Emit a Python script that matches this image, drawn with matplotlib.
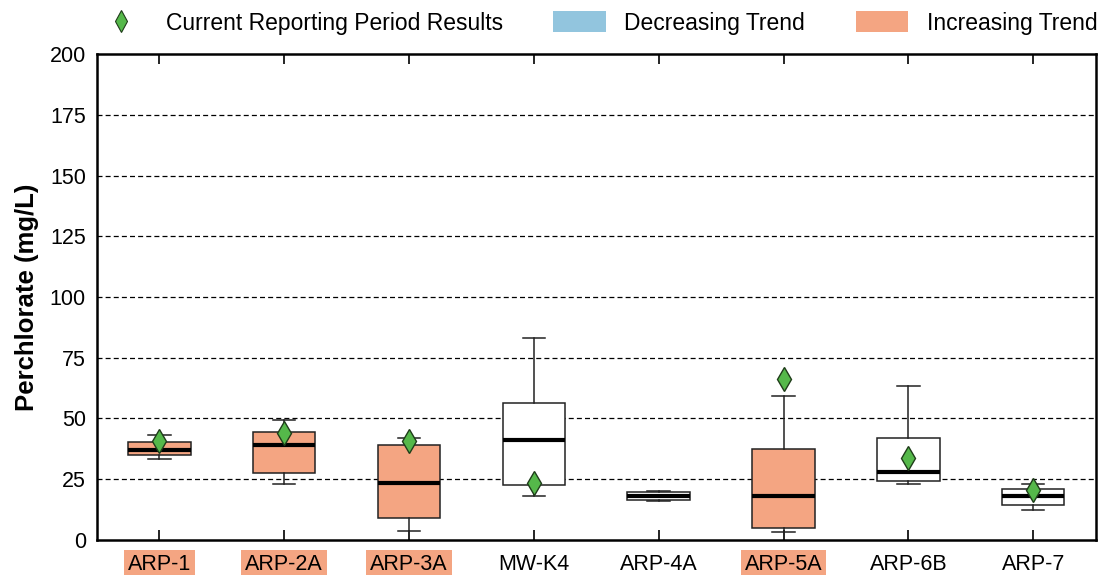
import matplotlib.pyplot as plt
from matplotlib.lines import Line2D
from matplotlib.patches import Patch

plt.rcParams['font.family'] = ['Liberation Sans', 'DejaVu Sans']

# well names and box statistics (mg/L)
wells = ['ARP-1', 'ARP-2A', 'ARP-3A', 'MW-K4', 'ARP-4A', 'ARP-5A', 'ARP-6B', 'ARP-7']
whislo = [33.3, 23.2, 3.7, 18.2, 16.2, 3.2, 23.2, 12.2]
q1 = [35.0, 27.6, 8.9, 22.8, 16.6, 4.8, 24.3, 14.4]
med = [37.0, 39.2, 23.6, 41.0, 18.0, 18.0, 28.1, 18.1]
q3 = [40.3, 44.4, 39.2, 56.4, 19.9, 37.3, 41.8, 21.1]
whishi = [43.2, 49.4, 42.1, 83.3, 20.3, 59.3, 63.2, 23.2]
# current reporting period results (None = no sample)
current = [40.7, 44.0, 40.7, 23.3, None, 66.3, 33.7, 20.4]
# trend per well: 'inc', 'dec' or None
trend = ['inc', 'inc', 'inc', None, None, 'inc', None, None]

dec_color = '#92C5DE'
inc_color = '#F4A582'
diamond_color = '#55B84A'
fontsize = 15.5

stats = []
for i in range(len(wells)):
    stats.append({'label': wells[i], 'whislo': whislo[i], 'q1': q1[i], 'med': med[i],
                  'q3': q3[i], 'whishi': whishi[i], 'fliers': []})

fig = plt.figure(figsize=(11.1, 5.75), dpi=100)
ax = fig.add_axes([0.0874, 0.061, 0.8996, 0.845])

positions = list(range(1, len(wells) + 1))
bp = ax.bxp(stats, positions=positions, widths=0.5, capwidths=0.18, patch_artist=True,
            boxprops=dict(edgecolor='#222222', linewidth=1.1),
            whiskerprops=dict(color='#222222', linewidth=1.1),
            capprops=dict(color='#222222', linewidth=1.1),
            medianprops=dict(color='black', linewidth=3.0))
for box, t in zip(bp['boxes'], trend):
    if t == 'inc':
        box.set_facecolor(inc_color)
    elif t == 'dec':
        box.set_facecolor(dec_color)
    else:
        box.set_facecolor('white')

# current results as diamonds
cx = [p for p, c in zip(positions, current) if c is not None]
cy = [c for c in current if c is not None]
ax.plot(cx, cy, linestyle='none', marker='d', markersize=12.5, markerfacecolor=diamond_color,
        markeredgecolor='#1f3d1a', markeredgewidth=1.0, zorder=5)

ax.set_xlim(0.5, len(wells) + 0.5)
ax.set_ylim(0, 200)
ax.set_yticks(range(0, 201, 25))
for y in range(25, 200, 25):
    ax.axhline(y, color='black', linestyle='--', linewidth=0.9, dashes=(4, 2.5), zorder=0)

ax.set_ylabel('Perchlorate (mg/L)', fontsize=18.5, fontweight='bold', labelpad=8)
ax.tick_params(axis='x', direction='in', length=7, width=1.2, top=True, labelsize=fontsize, pad=10)
ax.tick_params(axis='y', length=0, labelsize=fontsize, pad=8)
for spine in ax.spines.values():
    spine.set_linewidth(1.8)

ax.set_xticks(positions)
ax.set_xticklabels(wells)
for lbl, t in zip(ax.get_xticklabels(), trend):
    if t == 'inc':
        lbl.set_bbox(dict(facecolor=inc_color, edgecolor='none', pad=3))
    elif t == 'dec':
        lbl.set_bbox(dict(facecolor=dec_color, edgecolor='none', pad=3))

handles = [
    Line2D([], [], linestyle='none', marker='d', markersize=11, markerfacecolor=diamond_color,
           markeredgecolor='#1f3d1a', markeredgewidth=0.8),
    Patch(facecolor=dec_color, edgecolor='none'),
    Patch(facecolor=inc_color, edgecolor='none'),
]
fig.legend(handles, ['Current Reporting Period Results', 'Decreasing Trend', 'Increasing Trend'],
           loc='center', bbox_to_anchor=(0.537, 0.96), ncol=3, frameon=False, fontsize=16.5,
           handlelength=2.3, handleheight=1.0, handletextpad=0.8, columnspacing=2.2)

fig.savefig('out.png', dpi=100)
